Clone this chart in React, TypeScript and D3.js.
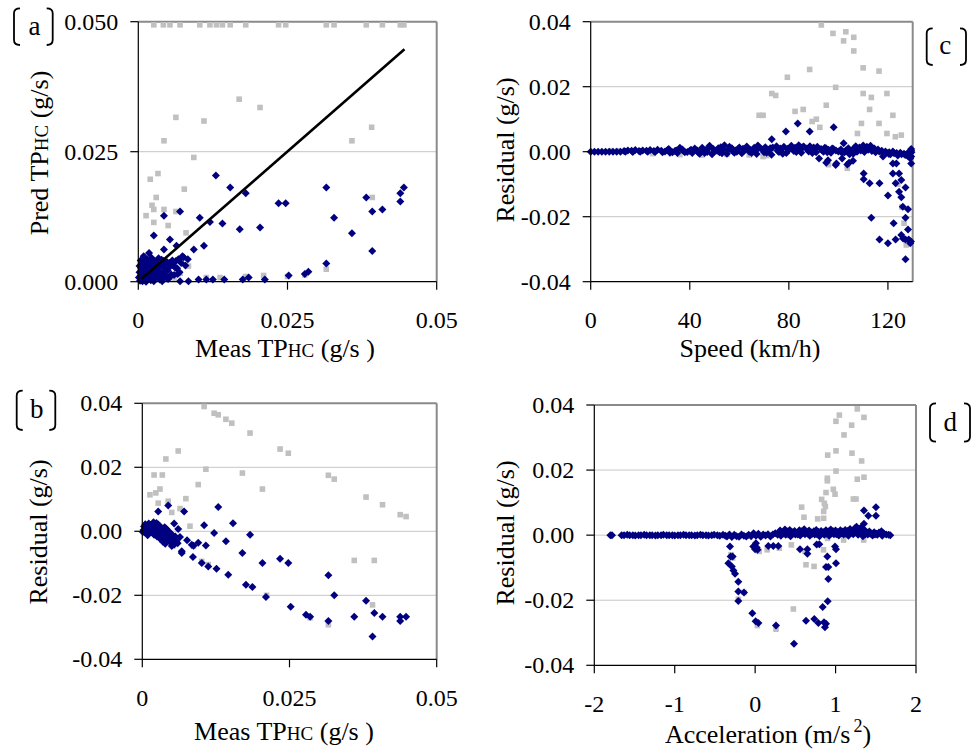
import React from "react";
import * as d3 from "d3";

type Pt = [number, number];

// ---------- (a) measured vs predicted TPHC, g/s ----------
const aGray: Pt[] = [
  [0.0026, 0.0494], [0.0042, 0.0494], [0.0053, 0.0494], [0.0070, 0.0494], [0.0103, 0.0494], [0.0120, 0.0494],
  [0.0131, 0.0494], [0.0141, 0.0494], [0.0154, 0.0494], [0.0180, 0.0494], [0.0235, 0.0494], [0.0247, 0.0494],
  [0.0315, 0.0494], [0.0328, 0.0494], [0.0382, 0.0494], [0.0409, 0.0494], [0.0439, 0.0494], [0.0445, 0.0494],
  [0.0169, 0.0351], [0.0204, 0.0335], [0.0063, 0.0316], [0.0110, 0.0309], [0.0391, 0.0297], [0.0043, 0.0271],
  [0.0358, 0.0271], [0.0093, 0.0239], [0.0033, 0.0208], [0.0020, 0.0197], [0.0077, 0.0178], [0.0030, 0.0162],
  [0.0023, 0.0147], [0.0026, 0.0139], [0.0043, 0.0139], [0.0063, 0.0135], [0.0013, 0.0127], [0.0026, 0.0114],
  [0.0050, 0.0108], [0.0080, 0.0094], [0.0392, 0.0162], [0.0315, 0.0024], [0.0279, 0.0013], [0.0084, 0.0030],
  [0.0070, 0.0016], [0.0047, 0.0022], [0.0114, 0.0008], [0.0137, 0.0008], [0.0180, 0.0010], [0.0210, 0.0012],
  [0.0250, 0.0010], [0.0060, 0.0006], [0.0036, 0.0010], [0.0016, 0.0004],
];
const aNavy: Pt[] = [
  [0.0130, 0.0204], [0.0154, 0.0181], [0.0180, 0.0170], [0.0235, 0.0151], [0.0247, 0.0151], [0.0315, 0.0181],
  [0.0328, 0.0123], [0.0382, 0.0162], [0.0392, 0.0135], [0.0409, 0.0139], [0.0439, 0.0154], [0.0439, 0.0170],
  [0.0445, 0.0181], [0.0358, 0.0093], [0.0392, 0.0059], [0.0315, 0.0035], [0.0103, 0.0123], [0.0120, 0.0115],
  [0.0141, 0.0112], [0.0170, 0.0101], [0.0204, 0.0104], [0.0070, 0.0135], [0.0043, 0.0127], [0.0026, 0.0089],
  [0.0053, 0.0081], [0.0043, 0.0062], [0.0064, 0.0069], [0.0093, 0.0062], [0.0110, 0.0069], [0.0074, 0.0049],
  [0.0083, 0.0043],
  [0.0040, 0.0001], [0.0070, 0.0001], [0.0084, 0.0001], [0.0101, 0.0004], [0.0114, 0.0004], [0.0125, 0.0004],
  [0.0144, 0.0004], [0.0175, 0.0004], [0.0185, 0.0008], [0.0212, 0.0004], [0.0252, 0.0012], [0.0279, 0.0015],
  [0.0285, 0.0019],
  [0.0003, 0.0002], [0.0006, 0.0005], [0.0004, 0.0012], [0.0008, 0.0009], [0.0010, 0.0003], [0.0012, 0.0015],
  [0.0015, 0.0006], [0.0017, 0.0021], [0.0019, 0.0011], [0.0021, 0.0003], [0.0023, 0.0017], [0.0025, 0.0027],
  [0.0027, 0.0008], [0.0029, 0.0013], [0.0031, 0.0035], [0.0033, 0.0021], [0.0036, 0.0004], [0.0038, 0.0030],
  [0.0040, 0.0014], [0.0042, 0.0040], [0.0045, 0.0024], [0.0047, 0.0008], [0.0049, 0.0022], [0.0052, 0.0036],
  [0.0055, 0.0014], [0.0057, 0.0041], [0.0060, 0.0013], [0.0062, 0.0027], [0.0065, 0.0026], [0.0067, 0.0043],
  [0.0069, 0.0018], [0.0072, 0.0036], [0.0076, 0.0047], [0.0079, 0.0031], [0.0015, 0.0043], [0.0018, 0.0055],
  [0.0009, 0.0033], [0.0005, 0.0025], [0.0001, 0.0008], [0.0002, 0.0018], [0.0011, 0.0024], [0.0034, 0.0045],
  [0.0046, 0.0011], [0.0026, 0.0001], [0.0020, 0.0037], [0.0050, 0.0005], [0.0013, 0.0000], [0.0007, 0.0001],
  [0.0030, 0.0026], [0.0044, 0.0033],
  [0.0002, 0.0030], [0.0004, 0.0041], [0.0007, 0.0016], [0.0009, 0.0049], [0.0012, 0.0037], [0.0014, 0.0026],
  [0.0016, 0.0013], [0.0019, 0.0032], [0.0022, 0.0046], [0.0024, 0.0009], [0.0027, 0.0039], [0.0028, 0.0019],
  [0.0032, 0.0010], [0.0035, 0.0028], [0.0037, 0.0016], [0.0039, 0.0042], [0.0041, 0.0006], [0.0043, 0.0020],
  [0.0048, 0.0038], [0.0051, 0.0027], [0.0053, 0.0009], [0.0058, 0.0032], [0.0063, 0.0040], [0.0066, 0.0015],
];
const aFit: Pt[] = [[0.0005, 0.0005], [0.0446, 0.0447]];

// ---------- (b) residual vs measured TPHC ----------
const bGray: Pt[] = [
  [0.0105, 0.0390], [0.0122, 0.0369], [0.0129, 0.0364], [0.0142, 0.0350], [0.0152, 0.0338], [0.0183, 0.0307],
  [0.0234, 0.0257], [0.0248, 0.0244], [0.0316, 0.0175], [0.0326, 0.0163], [0.0380, 0.0107], [0.0408, 0.0083],
  [0.0438, 0.0052], [0.0448, 0.0046], [0.0061, 0.0251], [0.0040, 0.0226], [0.0020, 0.0176], [0.0034, 0.0176],
  [0.0108, 0.0194], [0.0170, 0.0182], [0.0204, 0.0132], [0.0095, 0.0146], [0.0013, 0.0114], [0.0023, 0.0120],
  [0.0030, 0.0132], [0.0027, 0.0088], [0.0044, 0.0094], [0.0074, 0.0102], [0.0064, 0.0071], [0.0050, 0.0059],
  [0.0081, 0.0016], [0.0360, -0.0091], [0.0394, -0.0091], [0.0391, -0.0230], [0.0316, -0.0292], [0.0285, -0.0270],
  [0.0211, -0.0200], [0.0101, -0.0094], [0.0112, -0.0104], [0.0053, -0.0045], [0.0087, -0.0047], [0.0036, 0.0013],
  [0.0015, -0.0006],
];
const bNavy: Pt[] = [
  [0.0044, 0.0081], [0.0027, 0.0062], [0.0071, 0.0062], [0.0129, 0.0076], [0.0054, 0.0024], [0.0105, 0.0019],
  [0.0154, 0.0025], [0.0122, -0.0005], [0.0183, -0.0011], [0.0142, -0.0031], [0.0095, -0.0036], [0.0108, -0.0044],
  [0.0170, -0.0068], [0.0204, -0.0099], [0.0234, -0.0086], [0.0248, -0.0099], [0.0316, -0.0137], [0.0326, -0.0200],
  [0.0380, -0.0217], [0.0394, -0.0255], [0.0408, -0.0267], [0.0360, -0.0267], [0.0438, -0.0267], [0.0438, -0.0280],
  [0.0448, -0.0267], [0.0391, -0.0329], [0.0316, -0.0280], [0.0278, -0.0261], [0.0285, -0.0267], [0.0252, -0.0236],
  [0.0210, -0.0205], [0.0187, -0.0174], [0.0176, -0.0167], [0.0146, -0.0136], [0.0126, -0.0117], [0.0112, -0.0110],
  [0.0101, -0.0099], [0.0086, -0.0080], [0.0067, -0.0068], [0.0067, -0.0062], [0.0076, -0.0028], [0.0084, -0.0042],
  [0.0087, -0.0045], [0.0064, -0.0018], [0.0061, 0.0007],
  [0.0002, 0.0004], [0.0004, -0.0003], [0.0006, 0.0012], [0.0008, 0.0002], [0.0010, -0.0006], [0.0012, 0.0009],
  [0.0014, 0.0019], [0.0016, -0.0002], [0.0018, 0.0006], [0.0020, -0.0011], [0.0022, 0.0014], [0.0024, 0.0026],
  [0.0026, 0.0003], [0.0028, -0.0008], [0.0030, 0.0010], [0.0032, -0.0015], [0.0034, 0.0004], [0.0036, -0.0022],
  [0.0038, 0.0013], [0.0040, -0.0005], [0.0042, -0.0028], [0.0044, 0.0002], [0.0046, -0.0013], [0.0048, -0.0035],
  [0.0050, -0.0009], [0.0052, -0.0024], [0.0054, -0.0041], [0.0056, -0.0016], [0.0058, -0.0030], [0.0060, -0.0037],
  [0.0003, 0.0015], [0.0005, 0.0022], [0.0009, -0.0012], [0.0013, 0.0002], [0.0017, 0.0021], [0.0021, 0.0002],
  [0.0025, -0.0016], [0.0029, 0.0017], [0.0033, 0.0001], [0.0037, -0.0009], [0.0041, 0.0007], [0.0045, -0.0020],
  [0.0001, -0.0002], [0.0011, 0.0024], [0.0019, 0.0028], [0.0027, 0.0021], [0.0035, -0.0033], [0.0050, -0.0046],
  [0.0039, -0.0039], [0.0031, -0.0025],
];

// ---------- (c) residual vs speed, km/h ----------
const cGray: Pt[] = [
  [93.1, 0.0390], [97.8, 0.0364], [102.1, 0.0341], [103.0, 0.0369], [106.2, 0.0352], [106.2, 0.0310],
  [88.4, 0.0253], [79.4, 0.0229], [98.9, 0.0198], [73.1, 0.0179], [74.7, 0.0173], [110.0, 0.0258],
  [116.4, 0.0248], [110.0, 0.0179], [113.3, 0.0167], [119.6, 0.0179], [82.5, 0.0124], [85.8, 0.0130],
  [95.1, 0.0143], [112.6, 0.0130], [122.0, 0.0112], [68.0, 0.0112], [69.6, 0.0112], [91.1, 0.0100],
  [89.4, 0.0093], [92.5, 0.0075], [109.3, 0.0087], [116.4, 0.0087], [107.7, 0.0056], [119.6, 0.0056],
  [123.0, 0.0046], [125.4, 0.0051],
  [103.6, -0.0051], [69.6, -0.0015], [71.0, -0.0012], [125.6, -0.0170], [127.4, -0.0287], [126.5, -0.0220],
  [128.6, -0.0275], [124.0, -0.0100], [96.0, -0.0040], [55.0, -0.0008], [45.0, -0.0010], [36.0, -0.0009],
  [25.0, -0.0006], [64.0, -0.0010], [8.0, 0.0003], [11.0, 0.0003], [14.0, 0.0003],
];
const cNavy: Pt[] = [
  [78.8, 0.0062], [83.6, 0.0087], [88.4, 0.0062], [98.1, 0.0075], [73.1, 0.0038], [102.1, 0.0026],
  [92.2, -0.0021], [95.1, -0.0034], [98.9, -0.0041], [103.6, -0.0039], [104.3, -0.0034], [105.9, -0.0028],
  [110.2, -0.0067], [110.2, -0.0085], [112.6, -0.0097], [116.6, -0.0097], [122.0, -0.0036], [123.4, -0.0036],
  [122.0, -0.0067], [124.5, -0.0067], [123.1, -0.0097], [124.5, -0.0123], [125.4, -0.0140], [125.4, -0.0087],
  [127.1, -0.0110], [120.0, -0.0135], [126.0, -0.0169], [128.1, -0.0177], [127.1, -0.0203], [113.3, -0.0203],
  [122.3, -0.0220], [128.1, -0.0239], [116.6, -0.0270], [120.0, -0.0282], [123.1, -0.0270], [125.4, -0.0256],
  [126.1, -0.0267], [127.1, -0.0270], [128.4, -0.0270], [129.3, -0.0276], [129.0, -0.0282], [127.1, -0.0331],
  [129.4, 0.0003], [129.4, -0.0015], [129.4, -0.0036], [128.2, -0.0015], [120.4, -0.0007], [118.0, -0.0015],
  [129.4, 0.0008], [129.0, -0.0020], [95.8, -0.0026], [99.2, -0.0036], [101.5, -0.0021],
];
const cBand: Pt[] = [
  [0, 0], [1.5, 0], [3, 0], [4.5, 0], [6, 0], [7.5, 0], [9, 0], [10.5, 0], [12, 0],
  [13.5, 0.0002], [15, 0.0004], [16.5, 0.0003], [18, 0.0005], [19.5, 0.0002], [21, 0.0004], [22.5, 0.0003],
  [24, 0.0005], [25.5, 0.0002], [27, 0.0006], [28.5, 0.0003], [30, 0.0001], [31.5, 0.0008], [33, -0.0002],
  [34.5, 0.0004], [36, 0.0012], [37.5, 0.0002], [39, -0.0001], [40.5, 0.0006], [42, 0.0010], [43.5, -0.0003],
  [14, 0], [17, -0.0001], [20, 0], [23, 0], [26, -0.0001], [29, -0.0002], [32, -0.0003], [35, -0.0004],
  [38, -0.0002], [41, -0.0004], [44, -0.0006],
  [45, 0.0012], [46.5, 0.0005], [48, 0.0018], [49.5, 0.0008], [51, 0.0003], [52.5, 0.0014], [54, 0.0020],
  [55.5, 0.0006], [57, 0.0011], [58.5, 0.0004], [60, 0.0013], [61.5, 0.0009], [63, 0.0016], [64.5, 0.0005],
  [66, 0.0012], [67.5, 0.0019], [69, 0.0008], [70.5, 0.0014], [72, 0.0006], [73.5, 0.0013], [75, 0.0017],
  [76.5, 0.0010], [78, 0.0015], [79.5, 0.0009], [81, 0.0018], [82.5, 0.0012], [84, 0.0020], [85.5, 0.0014],
  [87, 0.0010], [88.5, 0.0017], [90, 0.0013], [91.5, 0.0015], [93, 0.0008], [94.5, 0.0012], [96, 0.0006],
  [97.5, 0.0010], [99, 0.0004],
  [46, -0.0004], [49, -0.0008], [52, -0.0002], [55, -0.0006], [58, -0.0003], [61, -0.0005], [64, 0],
  [67, -0.0007], [70, -0.0002], [73, -0.0009], [76, -0.0001], [79, -0.0004], [82, 0.0002], [85, -0.0003],
  [88, 0.0001], [91, -0.0002], [94, 0.0000], [97, -0.0003], [100, 0.0001],
  [45.5, 0.0003], [50, 0.0002], [53.5, 0.0006], [57.5, 0.0001], [62, 0.0004], [66.5, 0.0002], [71, 0.0005],
  [75.5, 0.0003], [80, 0.0006], [84.5, 0.0005], [89, 0.0007], [93.5, 0.0004],
  [101, 0.0007], [102.5, -0.0002], [104, 0.0011], [105.5, 0.0004], [107, 0.0017], [108.5, 0.0013],
  [110, 0.0019], [111.5, 0.0015], [113, 0.0018], [114.5, 0.0010], [116, 0.0007], [117.5, 0.0003],
  [119, 0.0001], [120.5, -0.0002], [122, 0.0001], [123.5, -0.0004], [125, -0.0003], [126.5, -0.0006],
  [128, -0.0004], [129.5, -0.0002], [106, -0.0006], [109, 0.0004], [112, 0.0006], [115, -0.0002],
  [118, -0.0005], [121, -0.0008], [124, -0.0012], [127, -0.0010], [107.5, 0], [104.5, -0.0008],
  [31, 0.0005], [34, 0.0002], [37, 0.0007], [40, 0.0003], [43, 0.0004], [47.5, 0.0010], [51.5, 0.0011],
  [56, 0.0015], [59.5, 0.0008], [63.5, 0.0010], [68, 0.0013], [72.5, 0.0011], [77, 0.0007], [81.5, 0.0009],
  [86, 0.0016], [90.5, 0.0009], [95, 0.0011], [98, 0.0008], [103, 0.0004], [106.5, 0.0012], [109.5, 0.0009],
  [112.5, 0.0011], [47, -0.0001], [53, -0.0005], [59, 0.0000], [65, -0.0004], [71, -0.0003], [77.5, -0.0006],
  [83, -0.0001], [89.5, -0.0004], [95.5, -0.0002], [101.5, -0.0004], [105, 0.0001], [110.5, -0.0001],
  [113.5, 0.0002], [116.5, 0.0001], [119.5, -0.0003], [122.5, -0.0005], [125.5, -0.0008], [128.5, -0.0007],
];

// ---------- (d) residual vs acceleration, m/s² ----------
const dGray: Pt[] = [
  [1.270, 0.0388], [1.047, 0.0369], [1.353, 0.0362], [1.005, 0.0350], [1.200, 0.0338], [1.105, 0.0308],
  [1.005, 0.0259], [1.204, 0.0252], [0.902, 0.0246], [1.324, 0.0228], [1.005, 0.0197], [0.898, 0.0175],
  [0.898, 0.0167], [1.353, 0.0178], [1.270, 0.0172], [0.972, 0.0141], [0.993, 0.0126], [0.881, 0.0131],
  [0.827, 0.0110], [0.860, 0.0098], [0.873, 0.0088], [0.852, 0.0073], [0.852, 0.0052], [1.221, 0.0111],
  [1.254, 0.0111], [0.578, 0.0086], [0.607, 0.0055], [0.777, 0.0050], [0.632, -0.0091], [0.732, -0.0096],
  [0.475, -0.0227], [-0.139, -0.0176], [-0.209, -0.0197], [0.259, -0.0289], [0.027, -0.0278],
  [-0.30, -0.0060], [-0.28, -0.0070], [0.05, -0.0050], [0.15, -0.0045], [0.30, -0.0040], [0.45, -0.0030],
  [0.62, -0.0050], [0.85, -0.0045], [1.10, -0.0015], [1.35, -0.0015], [1.55, 0.0005], [0.90, -0.0010],
];
const dNavy: Pt[] = [
  [1.353, 0.0076], [1.502, 0.0086], [1.407, 0.0060], [1.502, 0.0060], [1.353, 0.0035], [-0.313, -0.0035],
  [-0.305, -0.0066], [-0.280, -0.0066], [-0.333, -0.0086], [-0.290, -0.0096], [-0.270, -0.0109], [-0.250, -0.0119],
  [-0.209, -0.0143], [-0.209, -0.0173], [-0.209, -0.0202], [-0.139, -0.0176], [-0.035, -0.0240], [0.006, -0.0265],
  [0.040, -0.0270], [0.259, -0.0278], [0.483, -0.0334], [0.632, -0.0263], [0.736, -0.0258], [0.786, -0.0270],
  [0.856, -0.0268], [0.881, -0.0272], [0.868, -0.0283], [0.840, -0.0221], [0.902, -0.0203], [0.910, -0.0135],
  [0.881, -0.0098], [0.910, -0.0098], [0.897, -0.0066], [1.005, -0.0086], [0.993, -0.0035], [1.005, -0.0043],
  [0.164, -0.0033], [0.226, -0.0033], [0.288, -0.0033], [0.558, -0.0043], [0.649, -0.0043], [0.798, -0.0028],
  [0.765, -0.0029], [-0.023, -0.0035], [0.000, -0.0043], [0.019, -0.0038], [0.649, -0.0057], [0.010, -0.0025],
  [0.030, -0.0045],
];
const dBand: Pt[] = [
  [-1.80, 0], [-1.78, 0],
  [-1.66, 0], [-1.63, 0], [-1.59, 0.0001], [-1.56, 0], [-1.52, 0], [-1.49, -0.0001], [-1.45, 0], [-1.42, 0],
  [-1.38, 0.0001], [-1.35, 0], [-1.31, 0], [-1.28, 0], [-1.24, -0.0001], [-1.21, 0], [-1.17, 0], [-1.14, 0.0001],
  [-1.10, 0], [-1.07, 0], [-1.03, 0], [-1.00, -0.0001], [-0.96, 0], [-0.93, 0], [-0.89, 0.0001], [-0.86, 0],
  [-0.82, 0], [-0.79, 0], [-0.75, -0.0001], [-0.72, 0], [-0.68, 0.0001], [-0.65, 0], [-0.61, 0], [-0.58, -0.0001],
  [-0.54, 0], [-0.51, 0.0001], [-0.47, 0], [-0.44, -0.0002], [-0.40, 0.0001], [-0.37, -0.0002],
  [-0.35, -0.0004], [-0.32, 0.0002], [-0.29, -0.0006], [-0.26, 0.0001], [-0.23, -0.0003], [-0.20, -0.0005],
  [-0.17, 0.0002], [-0.14, -0.0002], [-0.11, -0.0004], [-0.08, 0.0001], [-0.05, -0.0003], [-0.02, 0.0006],
  [0.01, -0.0002], [0.04, 0.0004], [0.07, -0.0005], [0.10, 0.0002], [0.13, -0.0001], [0.16, 0.0003],
  [0.19, -0.0004], [0.22, 0.0002], [0.25, 0.0006], [0.28, 0.0001],
  [0.31, 0.0014], [0.34, 0.0008], [0.37, 0.0017], [0.40, 0.0011], [0.43, 0.0016], [0.46, 0.0009],
  [0.49, 0.0013], [0.52, 0.0006], [0.55, 0.0015], [0.58, 0.0012], [0.61, 0.0018], [0.64, 0.0010],
  [0.67, 0.0014], [0.70, 0.0008], [0.73, 0.0012], [0.76, 0.0016], [0.79, 0.0010], [0.82, 0.0013],
  [0.85, 0.0009], [0.88, 0.0015], [0.91, 0.0011], [0.94, 0.0017], [0.97, 0.0012], [1.00, 0.0014],
  [1.03, 0.0010], [1.06, 0.0015], [1.09, 0.0011], [1.12, 0.0016], [1.15, 0.0013], [1.18, 0.0019],
  [1.21, 0.0012], [1.24, 0.0021], [1.27, 0.0015], [1.30, 0.0018], [1.33, 0.0012], [1.36, 0.0016],
  [1.39, 0.0008], [1.42, 0.0011], [1.45, 0.0005], [1.48, 0.0009], [1.51, 0.0004], [1.54, 0.0008],
  [1.57, 0.0012], [1.60, 0.0005], [1.63, 0.0002], [1.66, 0.0001], [1.68, 0],
  [0.32, -0.0002], [0.38, 0.0001], [0.44, -0.0003], [0.50, 0.0002], [0.56, -0.0001], [0.62, 0.0003],
  [0.68, -0.0002], [0.74, 0.0002], [0.80, -0.0003], [0.86, 0.0001], [0.92, -0.0002], [0.98, 0.0003],
  [1.04, -0.0001], [1.10, 0.0002], [1.16, -0.0002], [1.22, 0.0003], [1.28, 0.0001], [1.34, -0.0003],
  [1.40, 0.0002], [1.46, -0.0001], [1.52, 0.0001], [1.58, -0.0002],
  [0.35, 0.0005], [0.47, 0.0004], [0.59, 0.0006], [0.71, 0.0004], [0.83, 0.0006], [0.95, 0.0005],
  [1.07, 0.0006], [1.19, 0.0007], [1.31, 0.0006], [1.43, 0.0004], [0.41, 0.0003], [0.53, 0.0002],
  [0.65, 0.0005], [0.77, 0.0003], [0.89, 0.0004], [1.01, 0.0003], [1.13, 0.0004], [1.25, 0.0008],
  [1.37, 0.0003], [1.49, 0.0002], [1.26, 0.0026], [1.32, 0.0024],
];

// ---------- axis ticks ----------
const tphcTicks = [0, 0.025, 0.05];
const tphcTickText = ["0", "0.025", "0.05"];
const predTickText = ["0.000", "0.025", "0.050"];
const residTicks = [-0.04, -0.02, 0, 0.02, 0.04];
const residTickText = ["-0.04", "-0.02", "0.00", "0.02", "0.04"];
const speedTicks = [0, 40, 80, 120];
const speedTickText = ["0", "40", "80", "120"];
const accelTicks = [-2, -1, 0, 1, 2];
const accelTickText = ["-2", "-1", "0", "1", "2"];

const FONT = "Liberation Serif";
const NAVY = "#000080";
const GRAY = "#c0c0c0";

interface Box { left: number; right: number; top: number; bottom: number }

interface PanelProps {
  box: Box;
  xDomain: [number, number];
  yDomain: [number, number];
  xTicks: number[]; xTickText: string[];
  yTicks: number[]; yTickText: string[];
  grid: number[];
  gray: Pt[];
  navy: Pt[][];
  fit?: Pt[];
  xTitle: React.ReactNode; xTitlePos: [number, number];
  yTitle: React.ReactNode; yTitlePos: [number, number];
  tag: string; tagBox: { l: number; r: number; t: number; b: number; tx: number; ty: number };
}

const txt = { fontFamily: FONT, fill: "#000" } as const;

function Bracket({ x, t, b, dir }: { x: number; t: number; b: number; dir: 1 | -1 }) {
  const arm = 6 * dir;
  const r = 5;
  const d = `M${x + arm},${t} Q${x},${t} ${x},${t + r} L${x},${b - r} Q${x},${b} ${x + arm},${b}`;
  return <path d={d} fill="none" stroke="#000" strokeWidth={1.8} />;
}

function Panel(p: PanelProps) {
  const { box } = p;
  const x = d3.scaleLinear().domain(p.xDomain).range([box.left, box.right]);
  const y = d3.scaleLinear().domain(p.yDomain).range([box.bottom, box.top]);
  const line = d3.line<Pt>().x(d => x(d[0])).y(d => y(d[1]));
  const r = 4;
  const diamond = `M0,${-r}L${r},0L0,${r}L${-r},0Z`;
  const sq = 5.6;
  const tb = p.tagBox;
  return (
    <g>
      {p.grid.map(v => (
        <line key={`g${v}`} x1={box.left} x2={box.right} y1={y(v)} y2={y(v)} stroke="#c6c6c6" strokeWidth={1} />
      ))}
      <line x1={box.left} x2={box.right} y1={box.top} y2={box.top} stroke="#8a8a8a" strokeWidth={2} />
      <line x1={box.right} x2={box.right} y1={box.top} y2={box.bottom} stroke="#8a8a8a" strokeWidth={2} />
      {p.gray.map((d, i) => (
        <rect key={`s${i}`} x={x(d[0]) - sq / 2} y={y(d[1]) - sq / 2} width={sq} height={sq} fill={GRAY} />
      ))}
      {p.navy.map((set, k) =>
        set.map((d, i) => (
          <path key={`n${k}-${i}`} d={diamond} transform={`translate(${x(d[0])},${y(d[1])})`} fill={NAVY} />
        ))
      )}
      {p.fit && <path d={line(p.fit) || ""} fill="none" stroke="#000" strokeWidth={2.6} />}
      <line x1={box.left} x2={box.left} y1={box.top} y2={box.bottom} stroke="#000" strokeWidth={1.2} />
      <line x1={box.left} x2={box.right} y1={box.bottom} y2={box.bottom} stroke="#000" strokeWidth={1.2} />
      {p.yTicks.map((v, i) => (
        <g key={`yt${i}`}>
          <line x1={box.left - 8} x2={box.left} y1={y(v)} y2={y(v)} stroke="#000" strokeWidth={1.2} />
          <text style={txt} x={box.left - 20} y={y(v)} dy="0.34em" textAnchor="end" fontSize={24}>{p.yTickText[i]}</text>
        </g>
      ))}
      {p.xTicks.map((v, i) => (
        <g key={`xt${i}`}>
          <line x1={x(v)} x2={x(v)} y1={box.bottom} y2={box.bottom + 8} stroke="#000" strokeWidth={1.2} />
          <text style={txt} x={x(v)} y={box.bottom + 46.5} textAnchor="middle" fontSize={24}>{p.xTickText[i]}</text>
        </g>
      ))}
      <text style={txt} x={p.xTitlePos[0]} y={p.xTitlePos[1]} textAnchor="middle" fontSize={26}>{p.xTitle}</text>
      <text style={txt} transform={`translate(${p.yTitlePos[0]},${p.yTitlePos[1]}) rotate(-90)`} textAnchor="middle" fontSize={26}>
        {p.yTitle}
      </text>
      <Bracket x={tb.l} t={tb.t} b={tb.b} dir={1} />
      <Bracket x={tb.r} t={tb.t} b={tb.b} dir={-1} />
      <text style={txt} x={tb.tx} y={tb.ty} textAnchor="middle" fontSize={27}>{p.tag}</text>
    </g>
  );
}

const tphc = (lead: string, tail: string) => (
  <>
    {lead}TP<tspan fontSize={19}>HC</tspan>{tail}
  </>
);

export default function App() {
  return (
    <svg width={976} height={753} viewBox="0 0 976 753" style={{ position: "absolute", left: 0, top: 0, background: "#fff" }}>
      <rect width={976} height={753} fill="#fff" />
      <Panel
        box={{ left: 138.3, right: 436.7, top: 21.7, bottom: 281.7 }}
        xDomain={[0, 0.05]} yDomain={[0, 0.05]}
        xTicks={tphcTicks} xTickText={tphcTickText}
        yTicks={tphcTicks} yTickText={predTickText}
        grid={[0.025]}
        gray={aGray} navy={[aNavy]} fit={aFit}
        xTitle={tphc("Meas ", " (g/s )")} xTitlePos={[285, 357]}
        yTitle={tphc("Pred ", " (g/s)")} yTitlePos={[48, 153]}
        tag="a" tagBox={{ l: 14, r: 52.7, t: 8.3, b: 45, tx: 34.5, ty: 35 }}
      />
      <Panel
        box={{ left: 142.3, right: 436.7, top: 403.3, bottom: 659.3 }}
        xDomain={[0, 0.05]} yDomain={[-0.04, 0.04]}
        xTicks={tphcTicks} xTickText={tphcTickText}
        yTicks={residTicks} yTickText={residTickText}
        grid={[-0.02, 0, 0.02]}
        gray={bGray} navy={[bNavy]}
        xTitle={tphc("Meas ", " (g/s )")} xTitlePos={[284, 740]}
        yTitle="Residual (g/s)" yTitlePos={[47, 532]}
        tag="b" tagBox={{ l: 16.7, r: 55.3, t: 390.7, b: 430, tx: 36.7, ty: 418.3 }}
      />
      <Panel
        box={{ left: 590.7, right: 912.7, top: 21.7, bottom: 281.7 }}
        xDomain={[0, 130]} yDomain={[-0.04, 0.04]}
        xTicks={speedTicks} xTickText={speedTickText}
        yTicks={residTicks} yTickText={residTickText}
        grid={[-0.02, 0, 0.02]}
        gray={cGray} navy={[cBand, cNavy]}
        xTitle="Speed (km/h)" xTitlePos={[750, 357]}
        yTitle="Residual (g/s)" yTitlePos={[514, 150]}
        tag="c" tagBox={{ l: 926.7, r: 966, t: 28.3, b: 65, tx: 945.3, ty: 54.3 }}
      />
      <Panel
        box={{ left: 594.3, right: 916, top: 405, bottom: 665.3 }}
        xDomain={[-2, 2]} yDomain={[-0.04, 0.04]}
        xTicks={accelTicks} xTickText={accelTickText}
        yTicks={residTicks} yTickText={residTickText}
        grid={[-0.02, 0, 0.02]}
        gray={dGray} navy={[dBand, dNavy]}
        xTitle={
          <>
            Acceleration (m/s<tspan dx={3} dy={-11} fontSize={18}>2</tspan>
            <tspan dy={11}>)</tspan>
          </>
        }
        xTitlePos={[768, 743]}
        yTitle="Residual (g/s)" yTitlePos={[514, 533]}
        tag="d" tagBox={{ l: 930, r: 970, t: 403.3, b: 441.7, tx: 950.3, ty: 430.7 }}
      />
    </svg>
  );
}
